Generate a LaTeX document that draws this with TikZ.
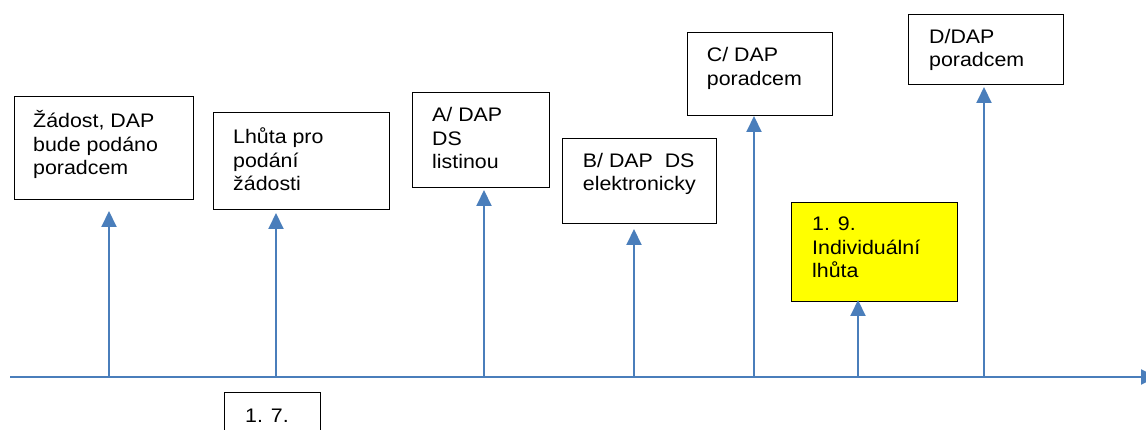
\documentclass[tikz,border=0pt]{standalone}
\usepackage{fontspec}
\setmainfont{Liberation Sans}[FakeStretch=1.09]
\usetikzlibrary{arrows.meta}
\definecolor{axisblue}{HTML}{4A7EBB}
\definecolor{boxyellow}{HTML}{FFFF00}
\newcommand\mlines[1]{\vtop{\baselineskip=23.5pt\lineskiplimit=-100pt #1}}
\begin{document}
\begin{tikzpicture}[x=1pt,y=-1pt,
  box/.style={draw=black,line width=1pt,inner sep=0pt,anchor=north west,fill=white},
  lbl/.style={inner sep=0pt,anchor=base west,font=\fontsize{19.6}{23.5}\selectfont},
  arr/.style={draw=axisblue,line width=2pt,-{Triangle[length=16pt,width=15pt]}}]
\useasboundingbox (0,0) rectangle (1146,430);
% boxes
\node[box,minimum width=179pt,minimum height=103pt] (b1) at (14,96) {};
\node[box,minimum width=176pt,minimum height=97pt] (b2) at (213,112) {};
\node[box,minimum width=137pt,minimum height=95pt] (bA) at (412,92) {};
\node[box,minimum width=154pt,minimum height=85pt] (bB) at (562,138) {};
\node[box,minimum width=145pt,minimum height=83pt] (bC) at (687,32) {};
\node[box,minimum width=155pt,minimum height=70pt] (bD) at (908,14) {};
\node[box,fill=boxyellow,minimum width=166pt,minimum height=99pt] (bY) at (791,202) {};
\node[box,minimum width=96pt,minimum height=50pt] (b17) at (224,392) {};
% texts
\node[lbl] (t1) at (33,127.7) {\mlines{\hbox{Žádost, DAP}\hbox{bude podáno}\hbox{poradcem}}};
\node[lbl] (t2) at (233,143.7) {\mlines{\hbox{Lhůta pro}\hbox{podání}\hbox{žádosti}}};
\node[lbl] (tA) at (432,121.7) {\mlines{\hbox{A/ DAP}\hbox{DS}\hbox{listinou}}};
\node[lbl] (tB) at (582.7,167.3) {\mlines{\hbox{B/ DAP~ DS}\hbox{elektronicky}}};
\node[lbl] (tC) at (706.7,61.7) {\mlines{\hbox{C/ DAP}\hbox{poradcem}}};
\node[lbl] (tD) at (929,43.3) {\mlines{\hbox{D/DAP}\hbox{poradcem}}};
\node[lbl] (tY) at (812,230.7) {\mlines{\hbox{1. 9.}\hbox{Individuální}\hbox{lhůta}}};
\node[lbl] (t17) at (245,422) {1. 7.};
% axis (its head runs past the right edge, as in the original)
\coordinate (a0) at (10,377);
\coordinate (a1) at (1157,377);
\draw[arr] (a0) -- (a1);
% arrow bases and tips
\coordinate (x1) at (109,377);  \coordinate (h1) at (109,211);
\coordinate (x2) at (276,377);  \coordinate (h2) at (276,213);
\coordinate (xA) at (484,377);  \coordinate (hA) at (484,190);
\coordinate (xB) at (634,377);  \coordinate (hB) at (634,229);
\coordinate (xC) at (754,377);  \coordinate (hC) at (754,116);
\coordinate (xY) at (858,377);  \coordinate (hY) at (858,300);
\coordinate (xD) at (984,377);  \coordinate (hD) at (984,87);
\foreach \n in {1,2,A,B,C,Y,D} {\draw[arr] (x\n) -- (h\n);}
\end{tikzpicture}
\end{document}
